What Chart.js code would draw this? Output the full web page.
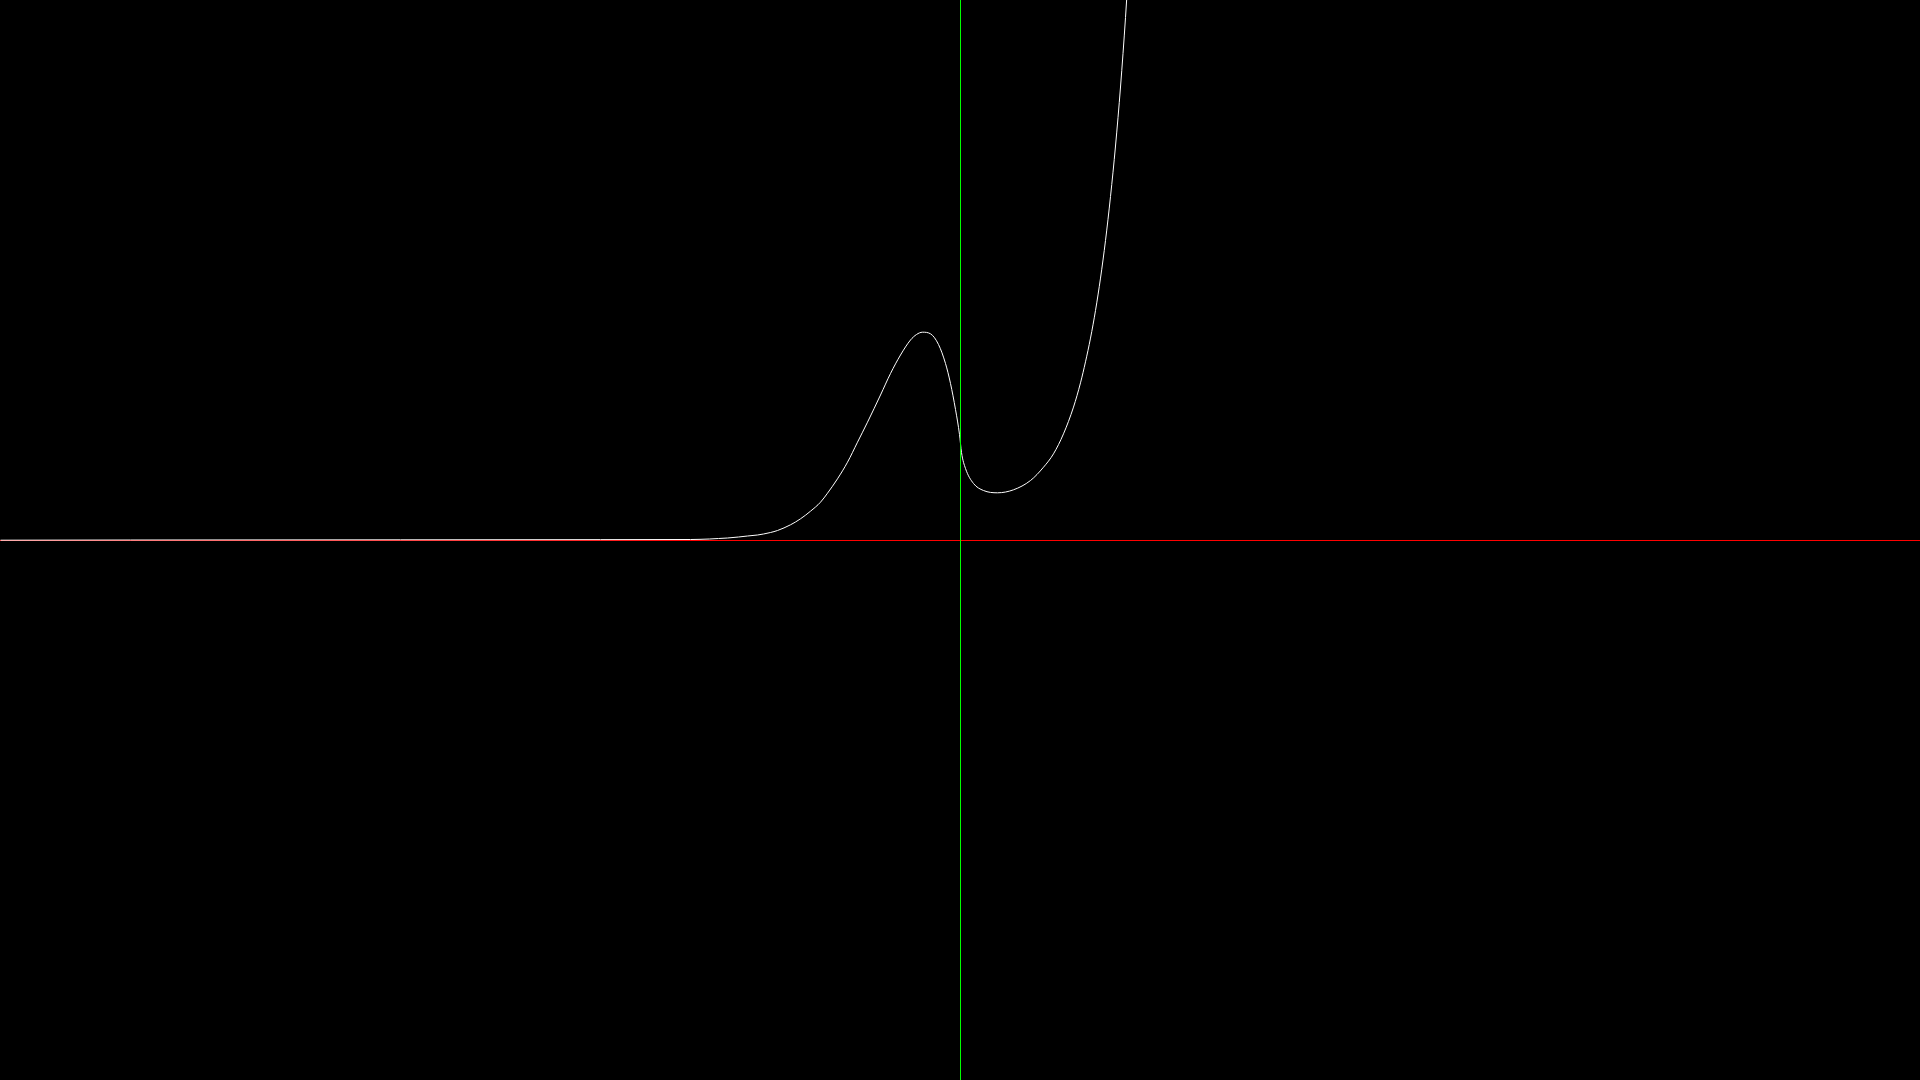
<!DOCTYPE html>
<html>
<head>
<meta charset="utf-8">
<title>Curve</title>
<script src="https://cdn.jsdelivr.net/npm/chart.js@4.4.1/dist/chart.umd.min.js"></script>
<style>
  html, body { margin: 0; padding: 0; background: #000; overflow: hidden; }
  #wrap { width: 1920px; height: 1080px; }
</style>
</head>
<body>
<div id="wrap"><canvas id="c" width="1920" height="1080"></canvas></div>
<script>
// Curve samples (x, y in chart units; origin at the axes crossing)
const curveX = [-9.600, -8.300, -5.600, -3.600, -2.700, -2.510, -2.420, -2.330, -2.220, -2.130,
  -2.030, -1.970, -1.900, -1.830, -1.700, -1.600, -1.500, -1.400, -1.330, -1.230, -1.130,
  -1.030, -0.930, -0.800, -0.700, -0.600, -0.500, -0.440, -0.380, -0.300, -0.220, -0.150,
  -0.100, -0.050, -0.010, 0.010, 0.050, 0.130, 0.230, 0.370, 0.530, 0.700, 0.830, 0.930,
  1.030, 1.130, 1.200, 1.250, 1.300, 1.350, 1.400, 1.450, 1.500, 1.550, 1.600, 1.650,
  1.700];
const curveY = [0.003, 0.005, 0.007, 0.0085, 0.010, 0.015, 0.020, 0.025, 0.035, 0.045,
  0.055, 0.065, 0.080, 0.100, 0.157, 0.217, 0.293, 0.383, 0.473, 0.617, 0.783,
  0.983, 1.183, 1.455, 1.670, 1.855, 2.005, 2.060, 2.083, 2.067, 1.960, 1.770,
  1.570, 1.310, 1.060, 0.880, 0.720, 0.570, 0.500, 0.477, 0.507, 0.600, 0.733, 0.867,
  1.067, 1.334, 1.577, 1.787, 2.024, 2.300, 2.624, 3.000, 3.440, 3.945, 4.535, 5.230,
  6.040];

// View ranges (the axes cross at 0, 0)
const xRange = [-9.605, 9.595];
const yRange = [-5.395, 5.405];

const curvePts = curveX.map((x, i) => ({ x: x, y: curveY[i] }));
const xAxisPts = [{ x: xRange[0], y: 0 }, { x: xRange[1], y: 0 }];
const yAxisPts = [{ x: 0, y: yRange[0] }, { x: 0, y: yRange[1] }];

new Chart(document.getElementById('c'), {
  type: 'scatter',
  data: {
    datasets: [
      { data: yAxisPts, showLine: true, borderColor: '#00ff00', borderWidth: 1,
        pointRadius: 0, tension: 0, order: 0 },
      { data: curvePts, showLine: true, borderColor: '#ffffff', borderWidth: 1,
        pointRadius: 0, cubicInterpolationMode: 'monotone', order: 1 },
      { data: xAxisPts, showLine: true, borderColor: '#ff0000', borderWidth: 1,
        pointRadius: 0, tension: 0, order: 2 }
    ]
  },
  options: {
    responsive: false,
    animation: false,
    devicePixelRatio: 1,
    layout: { padding: 0 },
    plugins: { legend: { display: false }, tooltip: { enabled: false } },
    events: [],
    scales: {
      x: { type: 'linear', display: false, min: xRange[0], max: xRange[1] },
      y: { type: 'linear', display: false, min: yRange[0], max: yRange[1] }
    }
  }
});
</script>
</body>
</html>
